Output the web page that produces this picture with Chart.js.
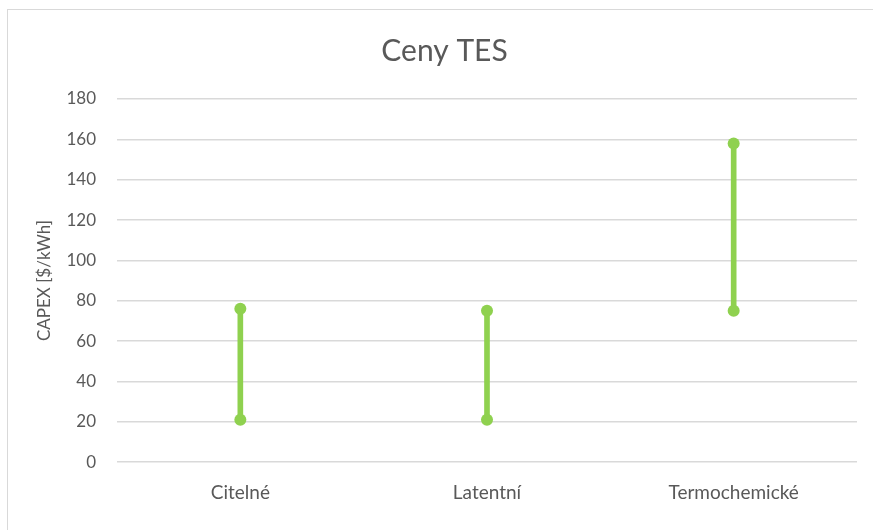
<!DOCTYPE html>
<html>
<head>
<meta charset="utf-8">
<script src="https://cdn.jsdelivr.net/npm/chart.js@4"></script>
<style>
  html, body { margin: 0; padding: 0; background: #fff; }
  #wrap { position: absolute; left: 0; top: 0; width: 873px; height: 530px; }
  #frame { position: absolute; left: 7px; top: 9px; width: 880px; height: 540px; border: 1px solid #d9d9d9; box-sizing: border-box; }
  canvas { position: absolute; left: 0; top: 0; }
</style>
</head>
<body>
<div id="wrap">
  <div id="frame"></div>
  <canvas id="tesChart" width="873" height="530"></canvas>
</div>
<script>
// Rozsahy cen (min - max) pro jednotlivé typy akumulace
const categories = ['Citelné', 'Latentní', 'Termochemické'];
const lowValues = [21, 21, 75];
const highValues = [76, 75, 158];
const yTicks = [0, 20, 40, 60, 80, 100, 120, 140, 160, 180];

const green = '#8fd14f';
const textGray = '#595959';
const gridGray = '#d9d9d9';

Chart.defaults.font.family = 'Lato, "Open Sans", sans-serif';
Chart.defaults.color = textGray;

let ctx = document.getElementById('tesChart').getContext('2d');
let tesChart = new Chart(ctx, {
  type: 'bar',
  data: {
    labels: categories,
    datasets: [
      {
        // svislá čára mezi minimem a maximem
        label: 'rozsah',
        data: categories.map((c, i) => [lowValues[i], highValues[i]]),
        backgroundColor: green,
        borderWidth: 0,
        barThickness: 5,
        order: 2
      },
      {
        label: 'min',
        type: 'line',
        data: lowValues,
        showLine: false,
        pointRadius: 6,
        pointHoverRadius: 6,
        pointBackgroundColor: green,
        pointBorderWidth: 0,
        order: 1
      },
      {
        label: 'max',
        type: 'line',
        data: highValues,
        showLine: false,
        pointRadius: 6,
        pointHoverRadius: 6,
        pointBackgroundColor: green,
        pointBorderWidth: 0,
        order: 1
      }
    ]
  },
  options: {
    responsive: false,
    animation: false,
    layout: {
      padding: { left: 32, right: 16, top: 25, bottom: 15 }
    },
    plugins: {
      legend: { display: false },
      tooltip: { enabled: false },
      title: {
        display: true,
        text: 'Ceny TES',
        color: textGray,
        font: { size: 30, weight: 'normal' },
        padding: { top: 8, bottom: 30 }
      }
    },
    scales: {
      x: {
        grid: { display: false },
        border: { display: false },
        ticks: {
          color: textGray,
          font: { size: 19 },
          padding: 11
        }
      },
      y: {
        min: 0,
        max: 180,
        afterFit: function (scale) {
          scale.width = 85;
        },
        afterBuildTicks: function (scale) {
          scale.ticks = yTicks.map(v => ({ value: v }));
        },
        grid: {
          color: gridGray,
          lineWidth: 1.5,
          drawTicks: false
        },
        border: { display: false },
        ticks: {
          color: textGray,
          font: { size: 17 },
          padding: 21
        },
        title: {
          display: true,
          text: 'CAPEX [$/kWh]',
          color: textGray,
          font: { size: 17 },
          padding: { top: 2, bottom: 0 }
        }
      }
    }
  }
});
</script>
</body>
</html>
